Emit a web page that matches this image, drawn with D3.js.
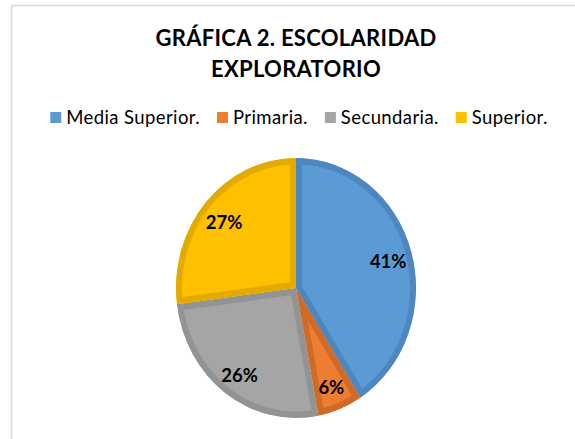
<!DOCTYPE html>
<html>
<head>
<meta charset="utf-8">
<script src="https://cdn.jsdelivr.net/npm/d3@7"></script>
<style>
  body { margin: 0; background: #fff; }
  text { font-family: Lato, "Open Sans", sans-serif; }
</style>
</head>
<body>
<script>
// data
const categories = ["Media Superior.", "Primaria.", "Secundaria.", "Superior."];
const values = [41, 6, 26, 27];
const fills = ["#5b9bd5", "#ed7d31", "#a5a5a5", "#ffc000"];
const strokes = ["#4e87c0", "#d06b27", "#939393", "#e3aa00"];
const titleLines = ["GRÁFICA 2. ESCOLARIDAD", "EXPLORATORIO"];

const width = 575, height = 439;
const svg = d3.select("body").append("svg")
  .attr("width", width).attr("height", height);

// chart frame
svg.append("rect")
  .attr("x", 11.5).attr("y", 5.5)
  .attr("width", 600).attr("height", 500)
  .attr("fill", "#fff")
  .attr("stroke", "#d9d9d9")
  .attr("stroke-width", 1.5);

// title
svg.append("g").selectAll("text")
  .data(titleLines)
  .enter().append("text")
  .attr("x", 296)
  .attr("y", (d, i) => 46 + i * 31)
  .attr("text-anchor", "middle")
  .attr("font-size", 22)
  .attr("font-weight", "bold")
  .attr("letter-spacing", 0.3)
  .attr("fill", "#000")
  .text(d => d);

// legend
const leg = svg.append("g");
const items = leg.selectAll("g")
  .data(categories)
  .enter().append("g");
items.append("rect")
  .attr("width", 11).attr("height", 11)
  .attr("y", 112)
  .attr("fill", (d, i) => fills[i]);
items.append("text")
  .attr("x", 16)
  .attr("y", 124)
  .attr("font-size", 18.5)
  .attr("letter-spacing", 0.4)
  .attr("fill", "#000")
  .text(d => d);
let xpos = 0;
items.each(function () {
  d3.select(this).attr("transform", `translate(${xpos},0)`);
  xpos += 16 + this.querySelector("text").getComputedTextLength() + 17;
});
const legW = xpos - 17;
leg.attr("transform", `translate(${299 - legW / 2},0)`);

// pie
const cx = 296, cy = 288, r = 120, sy = 130 / 120;
const pie = d3.pie().sort(null).value(d => d);
const arcs = pie(values);
const arc = d3.arc().innerRadius(0).outerRadius(r);
const labelArc = d3.arc().innerRadius(96).outerRadius(96);

const g = svg.append("g")
  .attr("transform", `translate(${cx},${cy}) scale(1,${sy})`);

const defs = svg.append("defs");
arcs.forEach((a, i) => {
  defs.append("clipPath").attr("id", "clip" + i)
    .append("path").attr("d", arc(a));
});

g.selectAll("path.slice")
  .data(arcs)
  .enter().append("path")
  .attr("class", "slice")
  .attr("d", arc)
  .attr("fill", (d, i) => fills[i])
  .attr("stroke", (d, i) => strokes[i])
  .attr("stroke-width", 12)
  .attr("stroke-linejoin", "miter")
  .attr("clip-path", (d, i) => `url(#clip${i})`);

// labels
svg.append("g").selectAll("text")
  .data(arcs)
  .enter().append("text")
  .attr("x", d => cx + labelArc.centroid(d)[0])
  .attr("y", d => cy + 3 + labelArc.centroid(d)[1] * sy)
  .attr("dy", "0.35em")
  .attr("text-anchor", "middle")
  .attr("font-size", 18.5)
  .attr("font-weight", "bold")
  .attr("fill", "#000")
  .text(d => d.data + "%");
</script>
</body>
</html>
